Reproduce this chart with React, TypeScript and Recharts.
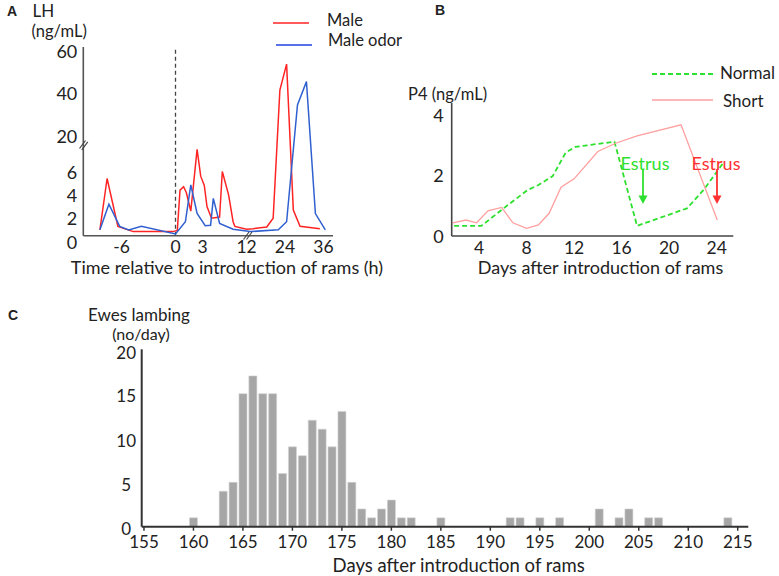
import { Bar, BarChart, Line, LineChart, ReferenceLine, XAxis, YAxis } from "recharts";

// A: LH (ng/mL), hours relative to introduction of rams
const maleHours = [-8.4, -7.6, -6.4, -4.7, -0.3, 0.2, 0.5, 0.9, 1.2, 1.7, 2.4, 2.8, 3.2, 3.5, 4.0, 4.9, 5.2, 5.9, 6.4, 6.6, 12.0, 14.1, 18.3, 20.3, 22.4, 24.5, 26.6, 28.7, 34.9];
const maleLH = [0.5, 4.9, 0.8, 0.35, 0.35, 0.45, 3.9, 4.2, 3.7, 2.1, 7.4, 5.1, 4.3, 2.5, 1.5, 1.6, 5.5, 3.5, 1.2, 0.8, 0.55, 0.6, 0.75, 1.5, 40.1, 52.1, 2.2, 0.8, 0.6];
const odorHours = [-8.4, -7.4, -6.2, -5.2, -3.8, 0, 1.1, 1.7, 2.4, 3.3, 3.9, 4.2, 4.9, 6.4, 13.1, 21.9, 24.5, 27.9, 30.7, 33.5, 36.6];
const odorLH = [0.5, 2.7, 0.8, 0.5, 0.8, 0.15, 1.2, 4.35, 1.9, 0.85, 0.9, 3.2, 1.05, 0.55, 0.35, 0.5, 1.2, 33.2, 44.0, 1.9, 0.5];
const lhTicks = [0, 2, 4, 6, 20, 40, 60];
const hourTicks = [-6, 0, 3, 12, 24, 36];

// B: P4 (ng/mL), days after introduction of rams
const normalDays = [1.9, 4.2, 6.0, 8.1, 9.0, 10.2, 11.3, 12.1, 15.4, 17.3, 21.5, 22.9, 24.5];
const normalP4 = [0.33, 0.33, 0.88, 1.5, 1.66, 1.95, 2.72, 2.9, 3.07, 0.33, 0.9, 1.5, 2.35];
const shortDays = [1.8, 2.9, 3.8, 4.75, 5.9, 6.85, 8.0, 9.0, 9.9, 10.9, 12.0, 14.0, 15.5, 17.3, 21.0, 24.05];
const shortP4 = [0.43, 0.52, 0.43, 0.82, 0.93, 0.43, 0.25, 0.36, 0.74, 1.59, 1.86, 2.75, 3.02, 3.26, 3.62, 0.52];
const p4Ticks = [0, 2, 4];
const dayTicksB = [4, 8, 12, 16, 20, 24];

// C: ewes lambing per day
const lambingDays = [160, 163, 164, 165, 166, 167, 168, 169, 170, 171, 172, 173, 174, 175, 176, 177, 178, 179, 180, 181, 182, 185, 192, 193, 195, 197, 201, 203, 204, 206, 207, 214];
const ewesLambing = [1, 4, 5, 15, 17, 15, 15, 6, 9, 8, 12, 11, 9, 13, 5, 2, 1, 2, 3, 1, 1, 1, 1, 1, 1, 1, 2, 1, 2, 1, 1, 1];
const countTicks = [0, 5, 10, 15, 20];
const dayTicksC = [155, 160, 165, 170, 175, 180, 185, 190, 195, 200, 205, 210, 215];

const FONT = "Lato, 'DejaVu Sans', sans-serif";
const INK = "#222";

// panel A has both axes broken, so values go through these piecewise scales
const hourPos = (h: number) =>
  h <= 7.5 ? h * 9 : h >= 12 ? 109.5 + (h - 24) * 3.2 : 67.5 + ((h - 7.5) * 3.6) / 4.5;
const lhPos = (v: number) =>
  v <= 8 ? v * 11.67 : v >= 20 ? 188.7 - (60 - v) * 2.165 : 93.36 + ((v - 8) * 8.74) / 12;

const maleRows = maleHours.map((h, i) => ({ u: hourPos(h), t: lhPos(maleLH[i]) }));
const odorRows = odorHours.map((h, i) => ({ u: hourPos(h), t: lhPos(odorLH[i]) }));
const normalRows = normalDays.map((d, i) => ({ day: d, p4: normalP4[i] }));
const shortRows = shortDays.map((d, i) => ({ day: d, p4: shortP4[i] }));
const lambRows = lambingDays.map((d, i) => ({ day: d, n: ewesLambing[i] }));

const labelFor = (list: number[], pos: (v: number) => number) => (t: number) =>
  String(list.find((v) => Math.abs(pos(v) - t) < 0.01) ?? "");

const Tick = (props: any) => {
  const { x, y, payload, anchor, dy = 0, size = 18, fmt } = props;
  const extra = typeof dy === "function" ? dy(payload.value) : dy;
  return (
    <text x={x} y={y + extra} textAnchor={anchor} dominantBaseline="central" fontSize={size} fill={INK} fontFamily={FONT}>
      {fmt ? fmt(payload.value) : payload.value}
    </text>
  );
};

const PanelA = () => {
  const yFmt = labelFor(lhTicks, lhPos);
  const xFmt = labelFor(hourTicks, hourPos);
  return (
    <LineChart width={390} height={280} margin={{ top: 47, right: 57, bottom: 14.3, left: 43.3 }}>
      <XAxis
        dataKey="u"
        type="number"
        domain={[-92.2, 157.5]}
        ticks={hourTicks.map(hourPos)}
        interval={0}
        height={30}
        tickSize={0}
        tickMargin={11}
        tickLine={false}
        axisLine={{ stroke: "#555", strokeWidth: 1.6 }}
        tick={(p: any) => <Tick {...p} anchor="middle" size={17.5} fmt={xFmt} />}
        allowDataOverflow
      />
      <YAxis
        type="number"
        domain={[0, 188.7]}
        ticks={lhTicks.map(lhPos)}
        interval={0}
        width={40}
        tickSize={0}
        tickMargin={6}
        tickLine={false}
        axisLine={{ stroke: "#555", strokeWidth: 1.6 }}
        tick={(p: any) => <Tick {...p} anchor="end" fmt={yFmt} dy={(t: number) => (t < 90 ? 6 : t > 180 ? 3.5 : 2.5)} />}
        allowDataOverflow
      />
      <ReferenceLine x={hourPos(0)} stroke="#444" strokeWidth={1.3} strokeDasharray="4 3" />
      <Line data={maleRows} dataKey="t" stroke="#ff2424" strokeWidth={1.5} dot={false} isAnimationActive={false} />
      <Line data={odorRows} dataKey="t" stroke="#3060d0" strokeWidth={1.5} dot={false} isAnimationActive={false} />
    </LineChart>
  );
};

const PanelB = () => (
  <LineChart width={389} height={280} margin={{ top: 103, right: 45.7, bottom: 14, left: 21.7 }}>
    <XAxis
      dataKey="day"
      type="number"
      domain={[1.7, 25.4]}
      ticks={dayTicksB}
      interval={0}
      height={30}
      tickSize={0}
      tickMargin={11}
      tickLine={false}
      axisLine={{ stroke: "#444", strokeWidth: 1.6 }}
      tick={(p: any) => <Tick {...p} anchor="middle" size={17.5} />}
      allowDataOverflow
    />
    <YAxis
      type="number"
      domain={[0, 4.33]}
      ticks={p4Ticks}
      interval={0}
      width={40}
      tickSize={0}
      tickMargin={8}
      tickLine={false}
      axisLine={{ stroke: "#444", strokeWidth: 1.6 }}
      tick={(p: any) => <Tick {...p} anchor="end" dy={(v: number) => (v === 4 ? 1.5 : 0)} />}
      allowDataOverflow
    />
    <Line data={normalRows} dataKey="p4" stroke="#2ee02e" strokeWidth={1.8} strokeDasharray="5 3" dot={false} isAnimationActive={false} />
    <Line data={shortRows} dataKey="p4" stroke="#ff9f9f" strokeWidth={1.3} dot={false} isAnimationActive={false} />
  </LineChart>
);

const PanelC = () => (
  <BarChart width={779} height={296} data={lambRows} margin={{ top: 69.3, right: 30.7, bottom: 19.3, left: 91.7 }}>
    <XAxis
      dataKey="day"
      type="number"
      domain={[154.77, 216.07]}
      ticks={dayTicksC}
      interval={0}
      height={30}
      tickSize={4}
      tickMargin={11}
      tickLine={{ stroke: "#333", strokeWidth: 1.5 }}
      axisLine={{ stroke: "#333", strokeWidth: 2 }}
      tick={(p: any) => <Tick {...p} anchor="middle" size={17} />}
      allowDataOverflow
    />
    <YAxis
      type="number"
      domain={[0, 20]}
      ticks={countTicks}
      interval={0}
      width={50}
      tickSize={0}
      tickMargin={15.5}
      tickLine={false}
      axisLine={{ stroke: "#333", strokeWidth: 2 }}
      tick={(p: any) => <Tick {...p} anchor="middle" size={17} dy={(v: number) => (v === 20 ? 3.5 : 2)} />}
    />
    <Bar dataKey="n" fill="#a6a6a6" stroke="#d4d4d4" strokeWidth={0.6} barSize={8} isAnimationActive={false} />
  </BarChart>
);

const T = (p: any) => {
  const { x, y, anchor = "start", size = 17, color = INK, bold, family = FONT, children } = p;
  return (
    <text x={x} y={y} textAnchor={anchor} dominantBaseline="central" fontSize={size} fill={color} fontFamily={family} fontWeight={bold ? 700 : 400}>
      {children}
    </text>
  );
};

const Overlay = () => (
  <svg width={779} height={576} style={{ position: "absolute", left: 0, top: 0, pointerEvents: "none" }}>
    {/* panel A */}
    <T x={7} y={11} size={14} bold family="'Liberation Sans', Arial, sans-serif">A</T>
    <T x={32.5} y={10.5}>LH</T>
    <T x={31.5} y={30.5} size={16.5}>(ng/mL)</T>
    <line x1={273} y1={23} x2={309} y2={23} stroke="#ff2424" strokeWidth={1.5} />
    <T x={327} y={20} size={16.5}>Male</T>
    <line x1={276} y1={45} x2={312} y2={45} stroke="#2040e0" strokeWidth={1.5} />
    <T x={328} y={39.5} size={16.5}>Male odor</T>
    <line x1={79.5} y1={148.5} x2={85.5} y2={140.5} stroke="#444" strokeWidth={1.2} />
    <line x1={81.8} y1={149.8} x2={87.8} y2={141.8} stroke="#444" strokeWidth={1.2} />
    <line x1={243.5} y1={239.5} x2={249} y2={232} stroke="#444" strokeWidth={1.2} />
    <line x1={246.5} y1={239.5} x2={252} y2={232} stroke="#444" strokeWidth={1.2} />
    <T x={227} y={267} anchor="middle" size={18}>Time relative to introduction of rams (h)</T>

    {/* panel B */}
    <T x={435} y={10} size={14} bold family="'Liberation Sans', Arial, sans-serif">B</T>
    <line x1={652} y1={74} x2={713} y2={74} stroke="#2ee02e" strokeWidth={1.8} strokeDasharray="5 3" />
    <T x={720} y={72.5}>Normal</T>
    <line x1={652} y1={100} x2={713} y2={100} stroke="#ff9f9f" strokeWidth={1.3} />
    <T x={723} y={100}>Short</T>
    <T x={408} y={93.5} size={16.5}>P4 (ng/mL)</T>
    <T x={645} y={162.5} anchor="middle" size={18} color="#2ee02e">Estrus</T>
    <line x1={643} y1={169} x2={643} y2={197} stroke="#2ee02e" strokeWidth={1.8} />
    <polygon points="638.5,195.5 647.5,195.5 643,204" fill="#2ee02e" />
    <T x={716} y={162.5} anchor="middle" size={18} color="#ff3030">Estrus</T>
    <line x1={717} y1={169} x2={717} y2={197} stroke="#ff3030" strokeWidth={1.8} />
    <polygon points="712.5,195.5 721.5,195.5 717,204" fill="#ff3030" />
    <T x={600.5} y={266.5} anchor="middle" size={18}>Days after introduction of rams</T>

    {/* panel C */}
    <T x={8} y={315} size={14} bold family="'Liberation Sans', Arial, sans-serif">C</T>
    <T x={139} y={314} anchor="middle" size={17}>Ewes lambing</T>
    <T x={141} y={333.5} anchor="middle" size={16}>(no/day)</T>
    <T x={458.7} y={565} anchor="middle" size={18.5}>Days after introduction of rams</T>
  </svg>
);

export default function App() {
  return (
    <div style={{ position: "absolute", left: 0, top: 0, width: 779, height: 576, background: "#fff", fontFamily: FONT }}>
      <div style={{ position: "absolute", left: 0, top: 0 }}>
        <PanelA />
      </div>
      <div style={{ position: "absolute", left: 390, top: 0 }}>
        <PanelB />
      </div>
      <div style={{ position: "absolute", left: 0, top: 280 }}>
        <PanelC />
      </div>
      <Overlay />
    </div>
  );
}
